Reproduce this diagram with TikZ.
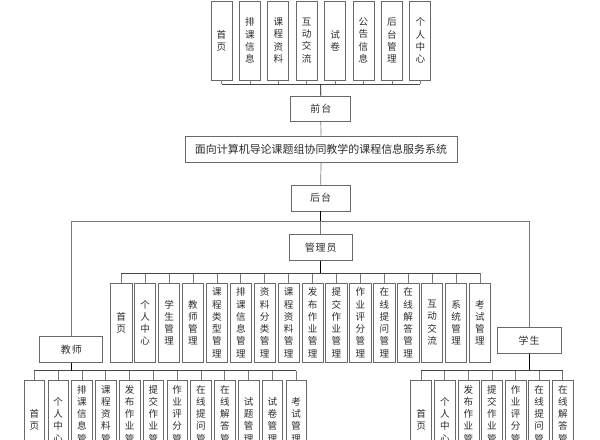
\documentclass[tikz,border=0pt]{standalone}
\usepackage{fontspec}
\newfontfamily\cjk{Noto Sans CJK SC}
\newfontfamily\cjkh{Noto Sans CJK SC}[LetterSpace=10]
\definecolor{boxc}{RGB}{105,105,105}
\definecolor{stemc}{RGB}{120,120,120}
\definecolor{busc}{RGB}{70,70,70}
\definecolor{txtc}{RGB}{45,45,45}
\begin{document}
\begin{tikzpicture}[x=1bp,y=-1bp,
  box/.style={draw=boxc, line width=0.7bp, inner sep=0pt, text=txtc, fill=white},
  vbox/.style={box, minimum width=21bp, minimum height=79bp, align=center,
    font=\cjk\fontsize{9.6}{12.3}\selectfont},
  hbox/.style={box, minimum height=26bp, font=\cjkh\fontsize{10}{11}\selectfont},
  stem/.style={draw=stemc, line width=0.7bp},
  bus/.style={draw=busc, line width=0.8bp},
  trunk/.style={draw=black, line width=0.9bp}]
\useasboundingbox (0,0) rectangle (600,440);
\clip (0,0) rectangle (600,440);
\fill[white] (0,0) rectangle (600,440);

% top row
\foreach \t [count=\i from 0] in {{首\\页},{排\\课\\信\\息},{课\\程\\资\\料},{互\\动\\交\\流},{试\\卷},{公\\告\\信\\息},{后\\台\\管\\理},{个\\人\\中\\心}}
  \node[vbox] (t\i) at (221.5+28.4*\i,40.5) {\t};
\coordinate (tb) at (320.7,84.3);
\foreach \i in {0,...,7} \draw[stem] (t\i.south) -- (t\i.south |- tb);
\draw[bus] (t0.south |- tb) -- (t7.south |- tb);

\node[hbox, minimum width=60bp, minimum height=25.7bp] (qt) at (320.8,108.8) {前台};
\node[hbox, minimum width=272bp, minimum height=26.7bp, font=\cjk\fontsize{11}{12}\selectfont] (sys) at (321,149.3) {面向计算机导论课题组协同教学的课程信息服务系统};
\node[hbox, minimum width=59.5bp] (ht) at (320.7,198) {后台};
\node[hbox, minimum width=63bp] (gl) at (320.7,247.3) {管理员};
\node[hbox, minimum width=63bp, minimum height=26.7bp] (js) at (71.3,349.3) {教师};
\node[hbox, minimum width=63.4bp, minimum height=26.4bp] (xs) at (529.2,340.5) {学生};

\draw[trunk] (tb) -- (qt.north);
\draw[stem] (qt.south) -- (sys.north);
\draw[stem] (sys.south) -- (ht.north);
\coordinate (fr) at (320.7,221.5);
\draw[trunk] (ht.south) -- (fr);
\draw[stem] (fr) -- (gl.north);
\draw[stem] (js.north) |- (fr) -| (xs.north);

% admin row
\foreach \t [count=\i from 0] in {{首\\页},{个\\人\\中\\心},{学\\生\\管\\理},{教\\师\\管\\理},{课\\程\\类\\型\\管\\理},{排\\课\\信\\息\\管\\理},{资\\料\\分\\类\\管\\理},{课\\程\\资\\料\\管\\理},{发\\布\\作\\业\\管\\理},{提\\交\\作\\业\\管\\理},{作\\业\\评\\分\\管\\理},{在\\线\\提\\问\\管\\理},{在\\线\\解\\答\\管\\理},{互\\动\\交\\流},{系\\统\\管\\理},{考\\试\\管\\理}}
  \node[vbox, minimum width=21.3bp, minimum height=79.3bp] (a\i) at (121.2+23.92*\i,322.7) {\t};
\coordinate (ab) at (320.7,273.3);
\foreach \i in {0,...,15} \draw[stem] (a\i.north) -- (a\i.north |- ab);
\draw[bus] (a0.north |- ab) -- (a15.north |- ab);
\draw[trunk] (gl.south) -- (ab);

% teacher row
\foreach \t [count=\i from 0] in {{首\\页},{个\\人\\中\\心},{排\\课\\信\\息\\管\\理},{课\\程\\资\\料\\管\\理},{发\\布\\作\\业\\管\\理},{提\\交\\作\\业\\管\\理},{作\\业\\评\\分\\管\\理},{在\\线\\提\\问\\管\\理},{在\\线\\解\\答\\管\\理},{试\\题\\管\\理},{试\\卷\\管\\理},{考\\试\\管\\理}}
  \node[vbox, minimum width=20.7bp, minimum height=80bp] (j\i) at (34.4+23.8*\i,420) {\t};
\coordinate (jb) at (71.3,370.5);
\foreach \i in {0,...,11} \draw[stem] (j\i.north) -- (j\i.north |- jb);
\draw[bus] (j0.north |- jb) -- (j11.north |- jb);
\draw[trunk] (js.south) -- (jb);

% student row
\foreach \t [count=\i from 0] in {{首\\页},{个\\人\\中\\心},{发\\布\\作\\业\\管\\理},{提\\交\\作\\业\\管\\理},{作\\业\\评\\分\\管\\理},{在\\线\\提\\问\\管\\理},{在\\线\\解\\答\\管\\理}}
  \node[vbox, minimum width=21bp, minimum height=80bp] (s\i) at (421.2+23.6*\i,420) {\t};
\coordinate (sb) at (529.2,370.3);
\foreach \i in {0,...,6} \draw[stem] (s\i.north) -- (s\i.north |- sb);
\draw[bus] (s0.north |- sb) -- (s6.north |- sb);
\draw[trunk] (xs.south) -- (sb);
\end{tikzpicture}
\end{document}
